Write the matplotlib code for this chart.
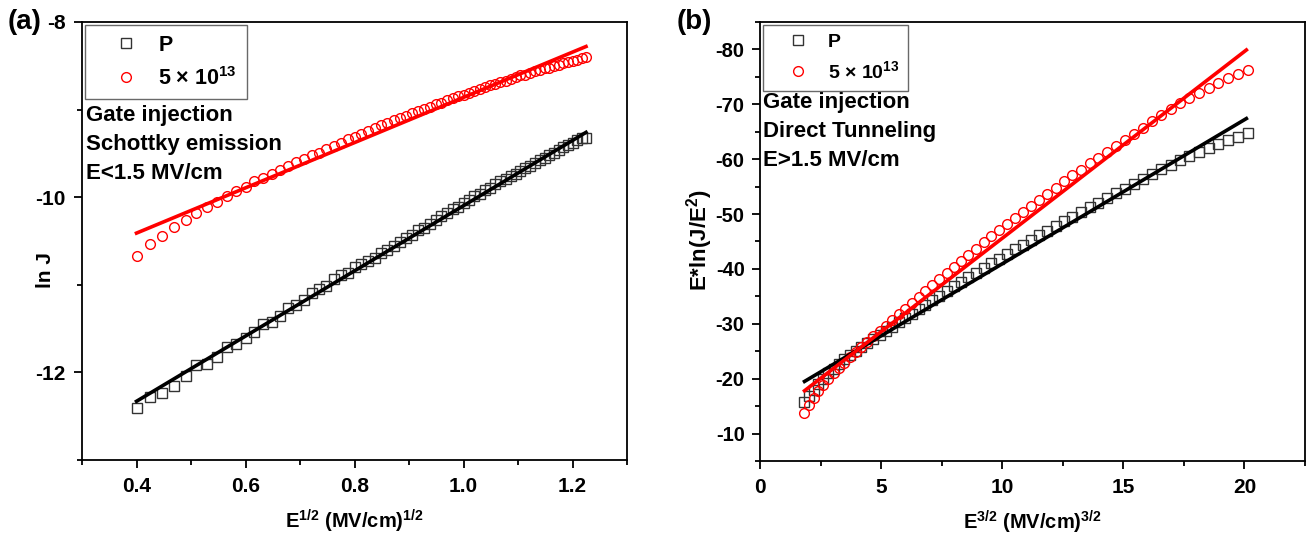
import matplotlib
matplotlib.use("Agg")
import matplotlib.pyplot as plt
from matplotlib.ticker import MultipleLocator, FormatStrFormatter

plt.rcParams['font.family'] = 'Liberation Sans'
plt.rcParams['font.weight'] = 'bold'
plt.rcParams['axes.unicode_minus'] = False
plt.rcParams['mathtext.fontset'] = 'custom'
plt.rcParams['mathtext.rm'] = 'Liberation Sans:bold'
plt.rcParams['mathtext.bf'] = 'Liberation Sans:bold'
plt.rcParams['mathtext.it'] = 'Liberation Sans:bold'

# ---- (a) Schottky emission: ln J vs E^1/2 ----
xa = [0.4000, 0.4243, 0.4472, 0.4690, 0.4899, 0.5099, 0.5292, 0.5477, 0.5657, 0.5831,
      0.6000, 0.6164, 0.6325, 0.6481, 0.6633, 0.6782, 0.6928, 0.7071, 0.7211, 0.7348,
      0.7483, 0.7616, 0.7746, 0.7874, 0.8000, 0.8124, 0.8246, 0.8367, 0.8485, 0.8602,
      0.8718, 0.8832, 0.8944, 0.9055, 0.9165, 0.9274, 0.9381, 0.9487, 0.9592, 0.9695,
      0.9798, 0.9899, 1.0000, 1.0100, 1.0198, 1.0296, 1.0392, 1.0488, 1.0583, 1.0677,
      1.0770, 1.0863, 1.0954, 1.1045, 1.1136, 1.1225, 1.1314, 1.1402, 1.1489, 1.1576,
      1.1662, 1.1747, 1.1832, 1.1916, 1.2000, 1.2083, 1.2166, 1.2247]
p_a = [-12.41, -12.28, -12.24, -12.16, -12.04, -11.92, -11.90, -11.82, -11.71, -11.68,
       -11.61, -11.54, -11.45, -11.42, -11.36, -11.26, -11.23, -11.17, -11.09, -11.05,
       -11.01, -10.93, -10.89, -10.87, -10.80, -10.76, -10.73, -10.69, -10.64, -10.60,
       -10.56, -10.51, -10.47, -10.43, -10.38, -10.35, -10.31, -10.26, -10.22, -10.18,
       -10.14, -10.11, -10.07, -10.03, -9.99, -9.96, -9.92, -9.89, -9.85, -9.82,
       -9.79, -9.76, -9.73, -9.70, -9.67, -9.64, -9.61, -9.58, -9.55, -9.52,
       -9.49, -9.46, -9.43, -9.40, -9.38, -9.35, -9.33, -9.32]
n_a = [-10.67, -10.54, -10.44, -10.34, -10.26, -10.18, -10.11, -10.05, -9.99, -9.93,
       -9.88, -9.82, -9.78, -9.73, -9.69, -9.64, -9.60, -9.56, -9.52, -9.49,
       -9.45, -9.41, -9.38, -9.34, -9.31, -9.28, -9.24, -9.21, -9.18, -9.15,
       -9.12, -9.10, -9.07, -9.04, -9.02, -8.99, -8.97, -8.94, -8.92, -8.89,
       -8.87, -8.85, -8.83, -8.81, -8.79, -8.76, -8.74, -8.72, -8.71, -8.69,
       -8.67, -8.65, -8.63, -8.61, -8.60, -8.58, -8.56, -8.55, -8.53, -8.52,
       -8.50, -8.49, -8.47, -8.46, -8.44, -8.43, -8.41, -8.40]
fit_xa = [0.4, 1.2247]
fit_p_a = [-12.33, -9.26]
fit_n_a = [-10.41, -8.28]

# ---- (b) Direct tunneling: E*ln(J/E^2) vs E^3/2 ----
xb = [1.837, 2.024, 2.217, 2.415, 2.619, 2.828, 3.043, 3.263, 3.488, 3.718,
      3.953, 4.192, 4.437, 4.685, 4.939, 5.196, 5.458, 5.724, 5.995, 6.269,
      6.548, 6.831, 7.117, 7.408, 7.702, 8.000, 8.302, 8.607, 8.917, 9.230,
      9.546, 9.866, 10.189, 10.516, 10.847, 11.180, 11.517, 11.858, 12.202, 12.548,
      12.899, 13.252, 13.609, 13.968, 14.331, 14.697, 15.066, 15.438, 15.813, 16.191,
      16.572, 16.956, 17.343, 17.732, 18.125, 18.520, 18.918, 19.320, 19.723, 20.130]
p_b = [-15.68, -16.87, -17.99, -19.04, -20.03, -20.96, -21.85, -22.70, -23.52, -24.31,
       -25.07, -25.78, -26.50, -27.23, -27.98, -28.74, -29.50, -30.28, -31.08, -31.86,
       -32.68, -33.49, -34.31, -35.14, -35.97, -36.80, -37.65, -38.49, -39.33, -40.18,
       -41.03, -41.88, -42.73, -43.58, -44.44, -45.29, -46.14, -46.99, -47.84, -48.69,
       -49.54, -50.39, -51.24, -52.08, -52.93, -53.79, -54.64, -55.50, -56.37, -57.24,
       -58.15, -59.01, -59.83, -60.60, -61.35, -62.07, -62.75, -63.43, -64.08, -64.71]
n_b = [-13.78, -15.16, -16.46, -17.67, -18.82, -19.92, -20.96, -21.98, -22.95, -23.91,
       -24.85, -25.78, -26.73, -27.70, -28.69, -29.69, -30.71, -31.74, -32.79, -33.84,
       -34.91, -35.99, -37.08, -38.17, -39.27, -40.38, -41.49, -42.60, -43.72, -44.83,
       -45.95, -47.07, -48.19, -49.30, -50.41, -51.53, -52.63, -53.74, -54.84, -55.94,
       -57.03, -58.12, -59.22, -60.30, -61.39, -62.48, -63.57, -64.67, -65.76, -66.87,
       -68.03, -69.15, -70.20, -71.19, -72.14, -73.04, -73.91, -74.74, -75.54, -76.30]
fit_xb = [1.84, 20.08]
fit_p_b = [-19.5, -67.4]
fit_n_b = [-17.8, -79.9]

labels = ['P', '5 × 10$^{13}$']

fig = plt.figure(figsize=(13.08, 5.39), dpi=100)
ax1 = fig.add_axes([0.0627, 0.1466, 0.4167, 0.8126])
ax2 = fig.add_axes([0.5810, 0.1447, 0.4167, 0.8145])


def style(ax):
    for s in ax.spines.values():
        s.set_linewidth(1.3)
    ax.tick_params(which='both', direction='out', top=False, right=False, labelsize=15,
                   width=1.3, pad=6)
    ax.tick_params(which='major', length=6)
    ax.tick_params(which='minor', length=3.5)


def draw(ax, x, ys, yc, fx, fys, fyc, fs, hl, htp, ls):
    h1, = ax.plot(x, ys, ls='none', marker='s', ms=6.5, mfc='none', mec='#333333', mew=1.0, label=labels[0])
    h2, = ax.plot(x, yc, ls='none', marker='o', ms=7, mfc='none', mec='red', mew=1.0, label=labels[1])
    ax.plot(fx, fys, color='black', lw=2.6)
    ax.plot(fx, fyc, color='red', lw=2.6)
    leg = ax.legend(handles=[h1, h2], loc='upper left', frameon=True, fancybox=False,
                    edgecolor='#444444', borderaxespad=0.15, handlelength=hl, handletextpad=htp,
                    labelspacing=ls, borderpad=0.45, prop={'size': fs, 'weight': 'bold'})
    leg.get_frame().set_linewidth(1.0)


draw(ax1, xa, p_a, n_a, fit_xa, fit_p_a, fit_n_a, 15.5, 2.9, 0.05, 0.5)
ax1.set_xlim(0.3, 1.3)
ax1.set_ylim(-13, -8)
ax1.xaxis.set_major_locator(MultipleLocator(0.2))
ax1.xaxis.set_minor_locator(MultipleLocator(0.1))
ax1.xaxis.set_major_formatter(FormatStrFormatter('%.1f'))
ax1.yaxis.set_major_locator(MultipleLocator(2))
ax1.yaxis.set_minor_locator(MultipleLocator(1))
style(ax1)
ax1.set_xlabel('E$^{1/2}$ (MV/cm)$^{1/2}$', fontsize=14.5, fontweight='bold', labelpad=9)
ax1.set_ylabel('ln J', fontsize=15, fontweight='bold')
ax1.yaxis.set_label_coords(-0.05, 0.434)
ax1.text(0.008, 0.810, 'Gate injection\nSchottky emission\nE<1.5 MV/cm', transform=ax1.transAxes,
         fontsize=16, fontweight='bold', va='top', ha='left', linespacing=1.5)

draw(ax2, xb, p_b, n_b, fit_xb, fit_p_b, fit_n_b, 14, 2.7, 0.2, 0.45)
ax2.set_xlim(0, 22.5)
ax2.set_ylim(-5, -85)
ax2.xaxis.set_major_locator(MultipleLocator(5))
ax2.xaxis.set_minor_locator(MultipleLocator(2.5))
ax2.yaxis.set_major_locator(MultipleLocator(10))
ax2.yaxis.set_minor_locator(MultipleLocator(5))
style(ax2)
ax2.tick_params(axis='y', labelsize=14.5, pad=5)
ax2.set_xlabel('E$^{3/2}$ (MV/cm)$^{3/2}$', fontsize=14.5, fontweight='bold', labelpad=9)
ax2.set_ylabel('E*ln(J/E$^{2}$)', fontsize=16, fontweight='bold')
ax2.yaxis.set_label_coords(-0.083, 0.503)
ax2.text(0.006, 0.841, 'Gate injection\nDirect Tunneling\nE>1.5 MV/cm', transform=ax2.transAxes,
         fontsize=16, fontweight='bold', va='top', ha='left', linespacing=1.5)

fig.text(0.006, 0.959, '(a)', fontsize=20, fontweight='bold', ha='left', va='center')
fig.text(0.5176, 0.959, '(b)', fontsize=20, fontweight='bold', ha='left', va='center')

fig.savefig('out.png', dpi=100)
